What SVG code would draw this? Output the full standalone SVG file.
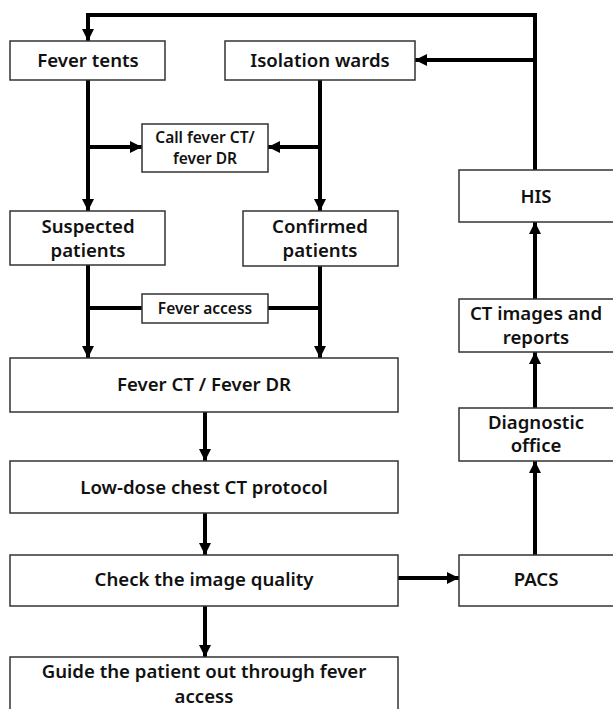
<svg xmlns="http://www.w3.org/2000/svg" width="613" height="709" viewBox="0 0 613 709">
<defs>
<marker id="ah" markerUnits="userSpaceOnUse" markerWidth="12" markerHeight="12" refX="12" refY="6" orient="auto">
<path d="M0,0 L12,6 L0,12 z" fill="#000"/>
</marker>
<style>
.box{fill:#fff;stroke:#333;stroke-width:1.5}
.t{font-family:"Noto Sans","Liberation Sans",Arial,sans-serif;font-weight:600;font-size:18.6px;fill:#111;text-anchor:middle}
.s{font-size:15.5px}
.c{fill:none;stroke:#000;stroke-width:4}
.a{marker-end:url(#ah)}
</style>
</defs>
<rect width="613" height="709" fill="#fff"/>
<g id="connectors">
<polyline class="c a" points="535,170 535,15 88,15 88,41"/>
<line class="c a" x1="535" y1="60" x2="415" y2="60"/>
<line class="c a" x1="88" y1="80" x2="88" y2="211"/>
<line class="c a" x1="320" y1="80" x2="320" y2="211"/>
<line class="c a" x1="88" y1="147" x2="142" y2="147"/>
<line class="c a" x1="320" y1="147" x2="268" y2="147"/>
<line class="c a" x1="88" y1="265" x2="88" y2="358"/>
<line class="c a" x1="320" y1="266" x2="320" y2="358"/>
<line class="c" x1="88" y1="308" x2="142" y2="308"/>
<line class="c" x1="268" y1="308" x2="320" y2="308"/>
<line class="c a" x1="205" y1="412" x2="205" y2="461"/>
<line class="c a" x1="205" y1="513" x2="205" y2="555"/>
<line class="c a" x1="205" y1="606" x2="205" y2="657"/>
<line class="c a" x1="398" y1="578" x2="459" y2="578"/>
<line class="c a" x1="535" y1="555" x2="535" y2="461"/>
<line class="c a" x1="535" y1="408" x2="535" y2="352"/>
<line class="c a" x1="535" y1="299" x2="535" y2="222"/>
</g>
<g id="fever-tents"><rect class="box" x="10" y="41" width="155" height="39"/><text class="t" x="88" y="67">Fever tents</text></g>
<g id="isolation-wards"><rect class="box" x="225" y="41" width="190" height="39"/><text class="t" x="320" y="67">Isolation wards</text></g>
<g id="call-fever"><rect class="box" x="142" y="124" width="126" height="48"/><text class="t s" x="205" y="143">Call fever CT/</text><text class="t s" x="205" y="164">fever DR</text></g>
<g id="suspected"><rect class="box" x="10" y="211" width="155" height="54"/><text class="t" x="88" y="233">Suspected</text><text class="t" x="88" y="257">patients</text></g>
<g id="confirmed"><rect class="box" x="243" y="211" width="155" height="55"/><text class="t" x="320" y="233">Confirmed</text><text class="t" x="320" y="257">patients</text></g>
<g id="fever-access"><rect class="box" x="142" y="294" width="126" height="29"/><text class="t s" x="205" y="314">Fever access</text></g>
<g id="fever-ct"><rect class="box" x="10" y="358" width="388" height="54"/><text class="t" x="204" y="391">Fever CT / Fever DR</text></g>
<g id="low-dose"><rect class="box" x="10" y="461" width="388" height="52"/><text class="t" x="204" y="494">Low-dose chest CT protocol</text></g>
<g id="check"><rect class="box" x="10" y="555" width="388" height="51"/><text class="t" x="204" y="586">Check the image quality</text></g>
<g id="guide"><rect class="box" x="10" y="657" width="388" height="60"/><text class="t" x="204" y="678">Guide the patient out through fever</text><text class="t" x="204" y="703">access</text></g>
<g id="pacs"><rect class="box" x="459" y="555" width="160" height="51"/><text class="t" x="536" y="586">PACS</text></g>
<g id="diagnostic"><rect class="box" x="459" y="408" width="160" height="53"/><text class="t" x="536" y="429">Diagnostic</text><text class="t" x="536" y="452">office</text></g>
<g id="ct-images"><rect class="box" x="459" y="299" width="160" height="53"/><text class="t" x="536" y="320">CT images and</text><text class="t" x="536" y="344">reports</text></g>
<g id="his"><rect class="box" x="459" y="170" width="160" height="52"/><text class="t" x="536" y="203">HIS</text></g>
</svg>
